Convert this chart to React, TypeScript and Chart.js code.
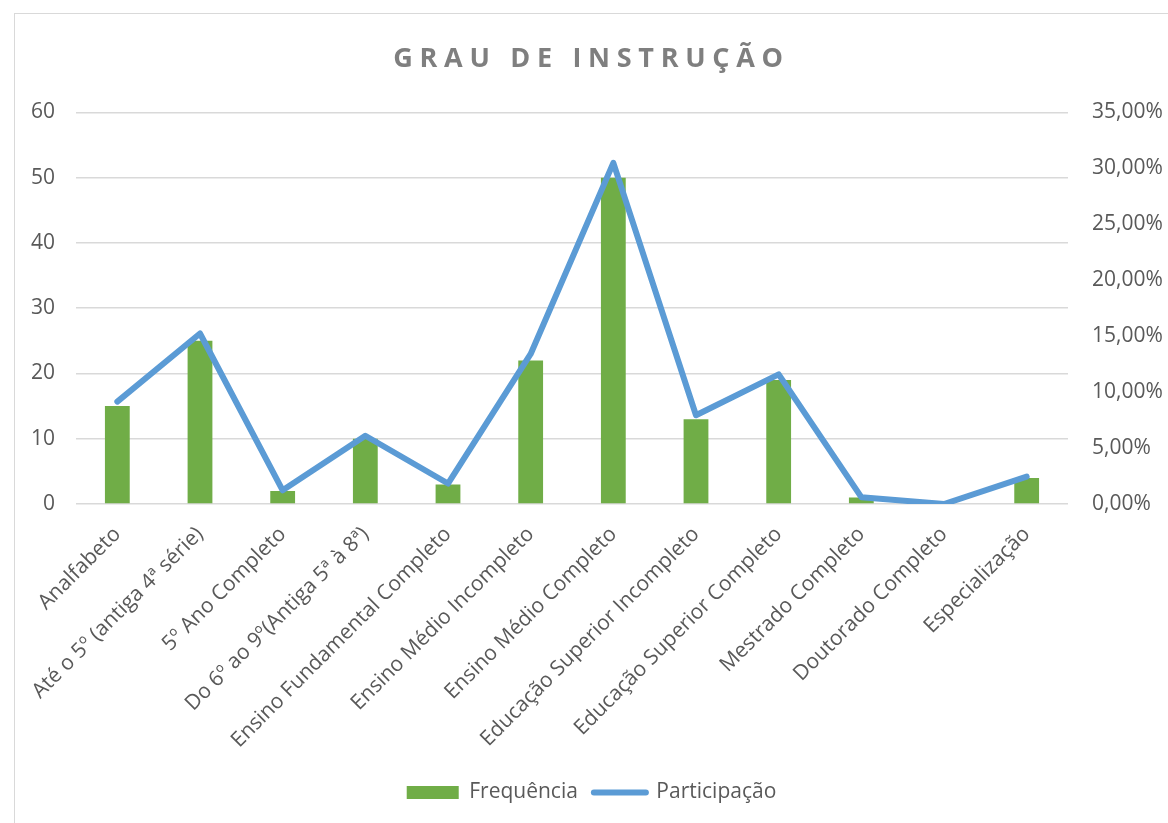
import React, { useEffect, useRef } from "react";
import { Chart, registerables } from "chart.js";

Chart.register(...registerables);

const categories = [
  "Analfabeto",
  "Até o 5º (antiga 4ª série)",
  "5º Ano Completo",
  "Do 6º ao 9º(Antiga 5ª à 8ª)",
  "Ensino Fundamental Completo",
  "Ensino Médio Incompleto",
  "Ensino Médio Completo",
  "Educação Superior Incompleto",
  "Educação Superior Completo",
  "Mestrado Completo",
  "Doutorado Completo",
  "Especialização",
];

const frequencia = [15, 25, 2, 10, 3, 22, 50, 13, 19, 1, 0, 4];
const participacao = [9.15, 15.24, 1.22, 6.1, 1.83, 13.41, 30.49, 7.93, 11.59, 0.61, 0, 2.44];

const leftTicksMax = 60;
const rightTicksMax = 35;

const FONT = "'Open Sans', 'Noto Sans', sans-serif";
const TEXT = "#595959";

const titleSpacing = {
  id: "titleSpacing",
  beforeDraw(chart: any) {
    const tb = chart.titleBlock;
    if (tb && !tb.__patched) {
      const orig = tb.draw.bind(tb);
      tb.draw = (area: any) => {
        const ctx = chart.ctx;
        ctx.save();
        (ctx as any).letterSpacing = "6.7px";
        orig(area);
        ctx.restore();
      };
      tb.__patched = true;
    }
  },
};

export default function App() {
  const ref = useRef<HTMLCanvasElement | null>(null);

  useEffect(() => {
    if (!ref.current) return;
    const chart = new Chart(ref.current, {
      type: "bar",
      data: {
        labels: categories,
        datasets: [
          {
            type: "bar",
            label: "Frequência",
            data: frequencia,
            backgroundColor: "#70AD47",
            borderWidth: 0,
            yAxisID: "y",
            order: 1,
            categoryPercentage: 0.3,
            barPercentage: 1,
          } as any,
          {
            type: "line",
            label: "Participação",
            data: participacao,
            borderColor: "#5B9BD5",
            backgroundColor: "#5B9BD5",
            borderWidth: 6,
            pointRadius: 0,
            borderJoinStyle: "round",
            borderCapStyle: "round",
            tension: 0,
            yAxisID: "y1",
            order: 0,
          } as any,
        ],
      },
      options: {
        animation: false,
        responsive: true,
        maintainAspectRatio: false,
        layout: { padding: { left: 0, right: 0, top: 0, bottom: 10 } },
        plugins: {
          tooltip: { enabled: false },
          title: {
            display: true,
            text: "GRAU DE INSTRUÇÃO",
            color: "#7F7F7F",
            font: { family: FONT, size: 27, weight: "bold" },
            padding: { top: 29, bottom: 37 },
          },
          legend: {
            position: "bottom",
            labels: {
              usePointStyle: true,
              pointStyleWidth: 52,
              boxHeight: 13,
              padding: 16,
              color: TEXT,
              font: { family: FONT, size: 21 },
              sort: (a: any, b: any) => a.datasetIndex - b.datasetIndex,
              generateLabels: (c: any) => {
                const items = (Chart.defaults.plugins.legend.labels as any).generateLabels(c);
                items.forEach((it: any) => {
                  if (it.datasetIndex === 0) {
                    it.pointStyle = "rect";
                    it.lineWidth = 0;
                  } else {
                    it.pointStyle = "line";
                    it.lineCap = "round";
                    it.lineWidth = 6;
                  }
                });
                return items;
              },
            },
          },
        },
        scales: {
          x: {
            grid: { display: false },
            border: { display: false },
            ticks: {
              color: TEXT,
              font: { family: FONT, size: 21 },
              minRotation: 45,
              maxRotation: 45,
              autoSkip: false,
              padding: 10,
            },
            afterFit: (s: any) => {
              s.height = 262;
            },
          },
          y: {
            position: "left",
            min: 0,
            max: leftTicksMax,
            grid: { color: "#D9D9D9", lineWidth: 1.5, drawTicks: false },
            border: { display: false },
            ticks: {
              stepSize: 10,
              color: TEXT,
              font: { family: FONT, size: 21 },
              padding: 21,
            },
            afterFit: (s: any) => {
              s.width = 61;
            },
          },
          y1: {
            position: "right",
            min: 0,
            max: rightTicksMax,
            grid: { display: false, drawTicks: false },
            border: { display: false },
            ticks: {
              stepSize: 5,
              color: TEXT,
              font: { family: FONT, size: 21 },
              padding: 24,
              callback: (v: any) => Number(v).toFixed(2).replace(".", ",") + "%",
            },
            afterFit: (s: any) => {
              s.width = 100;
            },
          },
        },
      },
      plugins: [titleSpacing],
    });
    return () => chart.destroy();
  }, []);

  return (
    <div
      style={{
        position: "absolute",
        left: 14,
        top: 13,
        width: 1154,
        height: 810,
        boxSizing: "border-box",
        borderTop: "1px solid #D9D9D9",
        borderLeft: "1px solid #D9D9D9",
        background: "#fff",
      }}
    >
      <div style={{ position: "relative", width: 1153, height: 809 }}>
        <canvas ref={ref} />
      </div>
    </div>
  );
}
